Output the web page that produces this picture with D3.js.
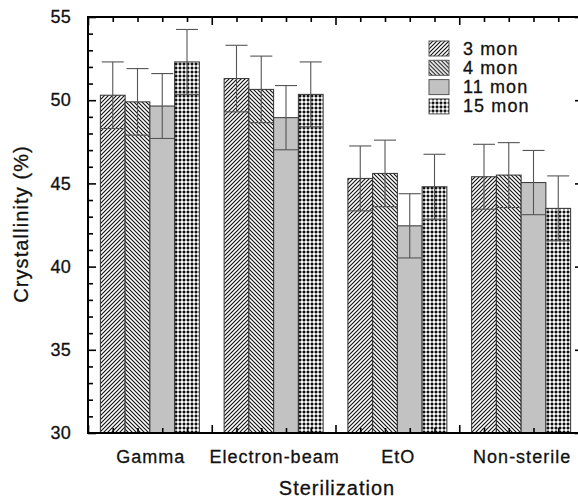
<!DOCTYPE html>
<html lang="en">
<head>
<meta charset="UTF-8"/>
<title>Crystallinity by sterilization</title>
<script src="https://d3js.org/d3.v7.min.js"></script>
<style>
	body { margin:0; background:#fff; }
	text { font-family: "Liberation Sans", Arial, Helvetica, sans-serif; fill:#111; stroke:#111; stroke-width:0.3px; }
</style>
</head>
<body>
<script>
	// ---------- data ----------
	var groups = ["Gamma", "Electron-beam", "EtO", "Non-sterile"];
	var seriesNames = ["3 mon", "4 mon", "11 mon", "15 mon"];

	var mon3  = [50.3, 51.3, 45.3, 45.4];
	var mon4  = [49.9, 50.65, 45.6, 45.5];
	var mon11 = [49.65, 48.95, 42.45, 45.05];
	var mon15 = [52.3, 50.35, 44.8, 43.5];

	var err3  = [2.0, 2.0, 1.95, 1.95];
	var err4  = [2.0, 2.0, 2.0, 1.95];
	var err11 = [1.95, 1.93, 1.93, 1.93];
	var err15 = [1.95, 1.95, 1.95, 1.95];

	var yTicks = [30, 35, 40, 45, 50, 55];

	var w = 578;
	var h = 498;

	var values = [mon3, mon4, mon11, mon15];
	var errors = [err3, err4, err11, err15];

	// flat table for the bars
	var bars = [];
	groups.forEach(function(g, gi){
		seriesNames.forEach(function(s, si){
			bars.push({group: gi, series: si, value: values[si][gi], err: errors[si][gi]});
		});
	});

	var xScale = d3.scaleLinear()
				.domain([0, groups.length])
				.range([88, 583]);

	var yScale = d3.scaleLinear()
				.domain([30, 55])
				.range([433, 17]);

	var svg = d3.select("body")
				.append("svg")
				.attr("width", w)
				.attr("height", h);

	//------------patterns-------------
	var defs = svg.append("defs");

	var p1 = defs.append("pattern")
		.attr("id", "hatch3")
		.attr("patternUnits", "userSpaceOnUse")
		.attr("width", 4).attr("height", 4);
	p1.append("rect").attr("width", 4).attr("height", 4).attr("fill", "#fff");
	p1.append("path")
		.attr("d", "M-1,1 l2,-2 M0,4 l4,-4 M3,5 l2,-2")
		.attr("stroke", "#111").attr("stroke-width", 1.15);

	var p2 = defs.append("pattern")
		.attr("id", "hatch4")
		.attr("patternUnits", "userSpaceOnUse")
		.attr("width", 4).attr("height", 4);
	p2.append("rect").attr("width", 4).attr("height", 4).attr("fill", "#fff");
	p2.append("path")
		.attr("d", "M-1,3 l2,2 M0,0 l4,4 M3,-1 l2,2")
		.attr("stroke", "#111").attr("stroke-width", 1.15);

	var p4 = defs.append("pattern")
		.attr("id", "cross15")
		.attr("patternUnits", "userSpaceOnUse")
		.attr("width", 4).attr("height", 4);
	p4.append("rect").attr("width", 4).attr("height", 4).attr("fill", "#a4a4a4");
	p4.append("rect").attr("x", 1).attr("y", 1).attr("width", 2).attr("height", 2).attr("fill", "#fff");
	p4.append("path")
		.attr("d", "M0,0 l1,1 M4,0 l-1,1 M0,4 l1,-1 M4,4 l-1,-1")
		.attr("stroke", "#000").attr("stroke-width", 0.9);

	var fills = ["url(#hatch3)", "url(#hatch4)", "#c2c2c2", "url(#cross15)"];

	var barW = 0.2;   // in group units

	//------------create bars-------------
	svg.selectAll("rect.bar")
		.data(bars)
		.enter()
		.append("rect")
		.attr("class", "bar")
		.attr("x", function(d){
			return xScale(d.group + 0.1 + d.series * barW);
		})
		.attr("y", function(d){
			return yScale(d.value);
		})
		.attr("width", function(d){
			return xScale(barW) - xScale(0);
		})
		.attr("height", function(d){
			return yScale(30) - yScale(d.value);
		})
		.attr("fill", function(d){ return fills[d.series]; })
		.attr("stroke", "#333")
		.attr("stroke-width", 1);

	//------------error bars-------------
	var capHalf = 11;
	var eb = svg.selectAll("g.err")
		.data(bars)
		.enter()
		.append("g")
		.attr("class", "err")
		.attr("stroke", "#555")
		.attr("stroke-width", 1.1);

	function cx(d){ return xScale(d.group + 0.2 + d.series * barW); }

	eb.append("line")
		.attr("x1", cx).attr("x2", cx)
		.attr("y1", function(d){ return yScale(d.value + d.err); })
		.attr("y2", function(d){ return yScale(d.value - d.err); });
	eb.append("line")
		.attr("x1", function(d){ return cx(d) - capHalf; })
		.attr("x2", function(d){ return cx(d) + capHalf; })
		.attr("y1", function(d){ return yScale(d.value + d.err); })
		.attr("y2", function(d){ return yScale(d.value + d.err); });
	eb.append("line")
		.attr("x1", function(d){ return cx(d) - capHalf - 1; })
		.attr("x2", function(d){ return cx(d) + capHalf + 1; })
		.attr("y1", function(d){ return yScale(d.value - d.err); })
		.attr("y2", function(d){ return yScale(d.value - d.err); });

	//------------axes (ticks inward)-------------
	var minorY = d3.range(30, 56, 1).filter(function(v){ return v % 5 !== 0; });
	var majorX = d3.range(0, groups.length + 1, 1);
	var minorX = d3.range(0, groups.length * 5 + 1, 1)
				.map(function(v){ return v / 5; })
				.filter(function(v){ return Math.abs(v - Math.round(v)) > 1e-6; });

	function styleAxis(g){
		g.select(".domain").remove();
		g.selectAll(".tick line").attr("stroke", "#000").attr("stroke-width", 1.6);
	}

	svg.append("g")
		.attr("transform", "translate(88,0)")
		.call(d3.axisLeft(yScale).tickValues(yTicks).tickSize(-8).tickPadding(17).tickFormat(d3.format("d")))
		.call(styleAxis)
		.selectAll("text")
		.style("font-size", "18px")
		.style("letter-spacing", "0.3px")
		.style("font-family", "'Liberation Sans', Arial, sans-serif")
		.attr("fill", "#111");
	svg.append("g")
		.attr("transform", "translate(88,0)")
		.call(d3.axisLeft(yScale).tickValues(minorY).tickSize(-5).tickFormat(""))
		.call(styleAxis);

	svg.append("g")
		.attr("transform", "translate(583,0)")
		.call(d3.axisRight(yScale).tickValues(yTicks).tickSize(-8).tickFormat(""))
		.call(styleAxis);
	svg.append("g")
		.attr("transform", "translate(583,0)")
		.call(d3.axisRight(yScale).tickValues(minorY).tickSize(-5).tickFormat(""))
		.call(styleAxis);

	svg.append("g")
		.attr("transform", "translate(0,433)")
		.call(d3.axisBottom(xScale).tickValues(majorX).tickSize(-8).tickFormat(""))
		.call(styleAxis);
	svg.append("g")
		.attr("transform", "translate(0,433)")
		.call(d3.axisBottom(xScale).tickValues(minorX).tickSize(-5).tickFormat(""))
		.call(styleAxis);
	svg.append("g")
		.attr("transform", "translate(0,17)")
		.call(d3.axisTop(xScale).tickValues(majorX).tickSize(-8).tickFormat(""))
		.call(styleAxis);
	svg.append("g")
		.attr("transform", "translate(0,17)")
		.call(d3.axisTop(xScale).tickValues(minorX).tickSize(-5).tickFormat(""))
		.call(styleAxis);

	// frame
	svg.append("rect")
		.attr("x", xScale(0))
		.attr("y", yScale(55))
		.attr("width", xScale(groups.length) - xScale(0))
		.attr("height", yScale(30) - yScale(55))
		.attr("fill", "none")
		.attr("stroke", "#000")
		.attr("stroke-width", 2);

	//------------category labels-------------
	svg.selectAll("text.cat")
		.data(groups)
		.enter()
		.append("text")
		.attr("class", "cat")
		.attr("x", function(d, i){ return xScale(i + 0.5) + 1; })
		.attr("y", 463)
		.attr("text-anchor", "middle")
		.style("font-size", "18px")
		.style("letter-spacing", "1px")
		.text(function(d){ return d; });

	svg.append("text")
		.attr("x", 337)
		.attr("y", 495)
		.attr("text-anchor", "middle")
		.style("font-size", "20px")
		.style("letter-spacing", "1px")
		.text("Sterilization");

	svg.append("text")
		.attr("transform", "translate(28,224) rotate(-90)")
		.attr("text-anchor", "middle")
		.style("font-size", "20px")
		.style("letter-spacing", "1.1px")
		.text("Crystallinity (%)");

	//------------legend-------------
	var legend = svg.selectAll("g.leg")
		.data(seriesNames)
		.enter()
		.append("g")
		.attr("class", "leg")
		.attr("transform", function(d, i){
			return "translate(429," + (41 + i * 19.3) + ")";
		});
	legend.append("rect")
		.attr("width", 20)
		.attr("height", 15)
		.attr("fill", function(d, i){ return fills[i]; })
		.attr("stroke", "#555")
		.attr("stroke-width", 1);
	legend.append("text")
		.attr("x", 34)
		.attr("y", 13.5)
		.style("font-size", "18px")
		.style("letter-spacing", "1.1px")
		.text(function(d){ return d; });
</script>
</body>
</html>
